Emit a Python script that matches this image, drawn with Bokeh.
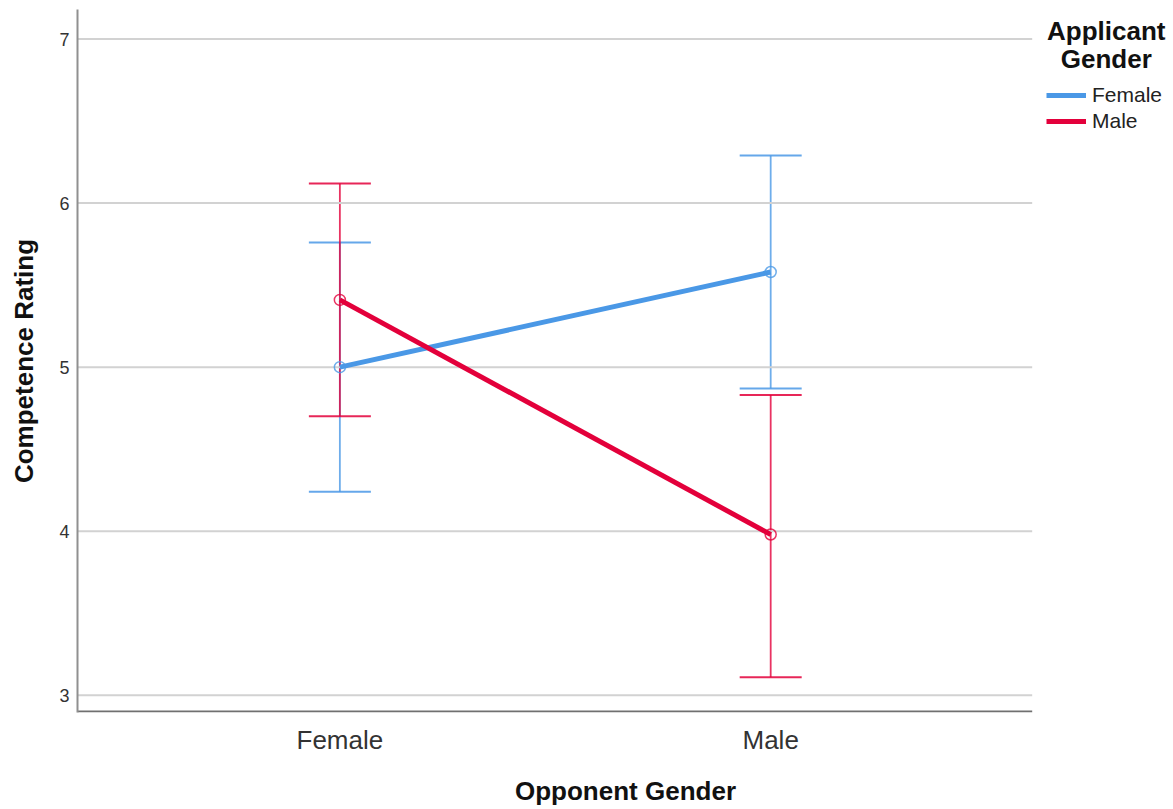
from bokeh.plotting import figure
from bokeh.models import (ColumnDataSource, Whisker, TeeHead, Legend, LegendItem,
                          Label, FixedTicker, Range1d)
from bokeh.embed import file_html
from bokeh.resources import INLINE

# ---- data ----
opponent = ["Female", "Male"]
xpos = [0, 1]
female_mean = [5.00, 5.58]
female_lo = [4.24, 4.87]
female_hi = [5.76, 6.29]
male_mean = [5.41, 3.98]
male_lo = [4.70, 3.11]
male_hi = [6.12, 4.83]
y_ticks = [3, 4, 5, 6, 7]

BLUE = "#4a98e6"
RED = "#e3003b"
FONT = "Liberation Sans"

X0, X_PLOT_END, X_END = -0.609, 1.607, 1.935
Y0, Y1 = 2.895, 7.18

p = figure(width=1173, height=809, output_backend="svg", toolbar_location=None,
           x_range=Range1d(X0, X_END), y_range=Range1d(Y0, Y1),
           min_border_left=77, min_border_right=0, min_border_top=9,
           min_border_bottom=97)
p.outline_line_color = None
p.background_fill_color = "white"
p.border_fill_color = "white"

# grid (drawn manually so it stops at the plot's right edge)
p.xgrid.grid_line_color = None
p.ygrid.grid_line_color = None
p.segment(x0=[X0] * len(y_ticks), x1=[X_PLOT_END] * len(y_ticks),
          y0=y_ticks, y1=y_ticks, line_color="#d2d2d2", line_width=2)
# bottom axis line
p.segment(x0=[X0], x1=[X_PLOT_END], y0=[Y0 + 0.006], y1=[Y0 + 0.006],
          line_color="#707070", line_width=2)

# axes
p.yaxis.ticker = FixedTicker(ticks=y_ticks)
p.yaxis.axis_line_color = "#909090"
p.yaxis.axis_line_width = 2
p.yaxis.major_tick_line_color = None
p.yaxis.major_tick_out = 0
p.yaxis.major_tick_in = 0
p.yaxis.minor_tick_line_color = None
p.yaxis.major_label_text_font = FONT
p.yaxis.major_label_text_font_size = "18px"
p.yaxis.major_label_text_color = "#333333"
p.yaxis.major_label_standoff = 8
p.yaxis.axis_label = "Competence Rating"
p.yaxis.axis_label_text_font = FONT
p.yaxis.axis_label_text_font_style = "bold"
p.yaxis.axis_label_text_font_size = "26px"
p.yaxis.axis_label_text_color = "#111111"
p.yaxis.axis_label_standoff = 17

p.xaxis.ticker = FixedTicker(ticks=xpos)
p.xaxis.major_label_overrides = {x: lab for x, lab in zip(xpos, opponent)}
p.xaxis.axis_line_color = None
p.xaxis.major_tick_line_color = None
p.xaxis.major_tick_out = 0
p.xaxis.major_tick_in = 0
p.xaxis.minor_tick_line_color = None
p.xaxis.major_label_text_font = FONT
p.xaxis.major_label_text_font_size = "26px"
p.xaxis.major_label_text_color = "#333333"
p.xaxis.major_label_standoff = 12
p.xaxis.axis_label = "Opponent Gender"
p.xaxis.axis_label_text_font = FONT
p.xaxis.axis_label_text_font_style = "bold"
p.xaxis.axis_label_text_font_size = "26px"
p.xaxis.axis_label_text_color = "#111111"
p.xaxis.axis_label_standoff = 18

src_f = ColumnDataSource(dict(x=xpos, m=female_mean, lo=female_lo, hi=female_hi))
src_m = ColumnDataSource(dict(x=xpos, m=male_mean, lo=male_lo, hi=male_hi))

for src, col in ((src_f, BLUE), (src_m, RED)):
    w = Whisker(source=src, base="x", upper="hi", lower="lo", dimension="height",
                line_color=col, line_width=1.8, line_alpha=0.8,
                upper_head=TeeHead(size=62, line_color=col, line_width=2, line_alpha=0.85),
                lower_head=TeeHead(size=62, line_color=col, line_width=2, line_alpha=0.85))
    p.add_layout(w)

lf = p.line("x", "m", source=src_f, line_color=BLUE, line_width=5)
lm = p.line("x", "m", source=src_m, line_color=RED, line_width=5)
p.scatter("x", "m", source=src_f, marker="circle", size=11, fill_color=None,
          line_color=BLUE, line_width=1.5, line_alpha=0.8)
p.scatter("x", "m", source=src_m, marker="circle", size=11, fill_color=None,
          line_color=RED, line_width=1.5, line_alpha=0.8)

legend = Legend(items=[LegendItem(label="Female", renderers=[lf]),
                       LegendItem(label="Male", renderers=[lm])],
                location=(969, 579), glyph_width=40, glyph_height=24,
                label_height=24, label_text_font=FONT, label_text_font_size="21px",
                label_text_color="#222222", label_standoff=6, spacing=2,
                padding=0, margin=0, border_line_color=None,
                background_fill_alpha=0)
p.add_layout(legend)

t1 = Label(x=1.779, y=7.047, text="Applicant", text_align="center",
           text_baseline="alphabetic", text_font=FONT, text_font_style="bold",
           text_font_size="26px", text_color="#111111")
t2 = Label(x=1.779, y=6.88, text="Gender", text_align="center",
           text_baseline="alphabetic", text_font=FONT, text_font_style="bold",
           text_font_size="26px", text_color="#111111")
p.add_layout(t1)
p.add_layout(t2)

open("out.html", "w").write(file_html(p, INLINE))
